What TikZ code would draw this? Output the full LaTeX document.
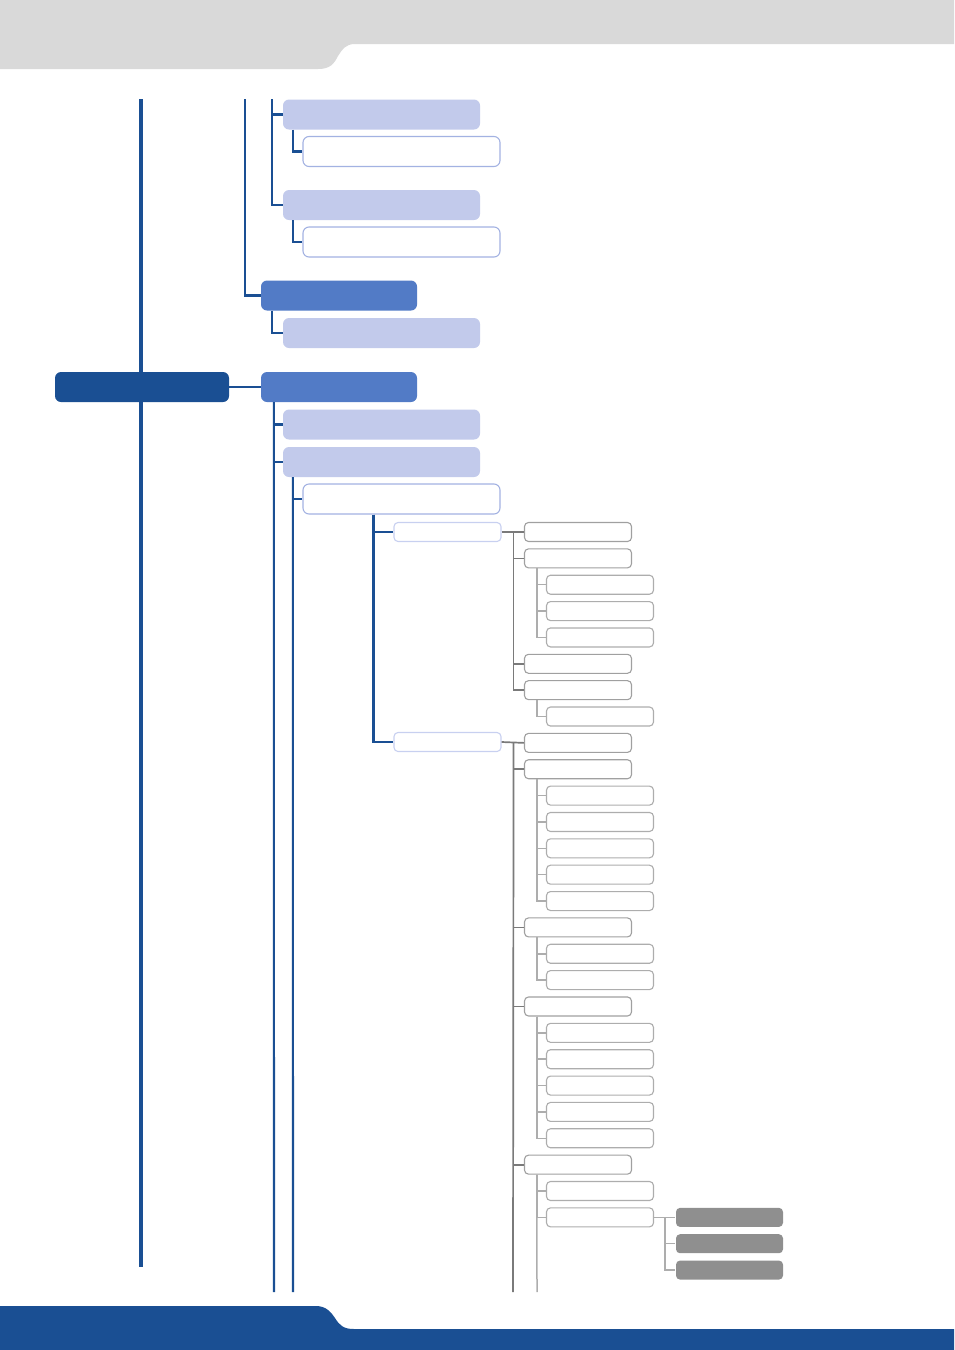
\documentclass[tikz,border=0pt]{standalone}
\usepackage{xcolor}
\usepackage{tikz}
\usetikzlibrary{positioning}
\definecolor{navy}{HTML}{1A4F93}
\definecolor{midblue}{HTML}{527BC6}
\definecolor{lav}{HTML}{C2CAEB}
\definecolor{lavline}{HTML}{A3B2E2}
\definecolor{lavpale}{HTML}{C8D0F0}
\definecolor{headgrey}{HTML}{D9D9D9}
\definecolor{greyrail}{HTML}{7A7A7A}
\definecolor{greylight}{HTML}{ADADAD}
\definecolor{greyedge}{HTML}{A0A0A0}
\definecolor{greyfill}{HTML}{8F8F8F}

\begin{document}
\begin{tikzpicture}[x=1pt, y=-1pt,
    box/.style={rectangle, rounded corners=6pt, minimum height=30pt, inner sep=0pt},
    rootbox/.style={box, fill=navy, minimum width=174pt},
    topicbox/.style={box, fill=midblue, minimum width=156pt},
    subbox/.style={box, fill=lav, minimum width=197pt},
    leafbox/.style={box, draw=lavline, fill=white, line width=1.1pt, minimum width=197pt},
    itembox/.style={rectangle, rounded corners=4pt, minimum width=107pt, minimum height=19pt, inner sep=0pt, draw=lavpale, line width=1.1pt, fill=white},
    greybox/.style={itembox, draw=greyedge},
    darkbox/.style={itembox, draw=none, fill=greyfill},
    spine/.style={navy, line width=3.2pt},
    link/.style={navy, line width=2.1pt},
    glink/.style={greyrail, line width=1.7pt},
    llink/.style={greylight, line width=1.5pt}
  ]
    \useasboundingbox (0,0) rectangle (954,1350);

    % page header and footer
    \fill[headgrey] (0,0) -- (954,0) -- (954,44) -- (355,44)
      .. controls (345,44) and (342,50) .. (338,56)
      .. controls (334,64) and (330,69) .. (318,69) -- (0,69) -- cycle;
    \fill[navy] (0,1350) -- (0,1306) -- (316,1306)
      .. controls (326,1306) and (331,1312) .. (335,1318)
      .. controls (340,1326) and (344,1329) .. (354,1329) -- (954,1329) -- (954,1350) -- cycle;

    % blue part of the tree
    \node[rootbox] (root) at (142,387) {};
    \node[subbox] (subA1) at (381.5,114.5) {};
    \node[leafbox] (leafA1) at (401.5,151.5) {};
    \node[subbox] (subA2) at (381.5,205) {};
    \node[leafbox] (leafA2) at (401.5,242) {};
    \node[topicbox] (secB) at (339,295.5) {};
    \node[subbox] (subB1) at (381.5,333) {};
    \node[topicbox] (secC) at (339,387) {};
    \node[subbox] (subC1) at (381.5,424.5) {};
    \node[subbox] (subC2) at (381.5,462) {};
    \node[leafbox] (leafC2) at (401.5,499) {};
    \node[itembox] (itemD1) at (447.5,532) {};
    \node[itembox] (itemD2) at (447.5,742) {};

    % grey part, one row every 26.36
    \foreach \r in {0,1,5,6,8,9,15,18,24}
      \node[greybox] (e\r) at (578,{532+26.36*\r}) {};
    \foreach \r in {2,3,4,7,10,11,12,13,14,16,17,19,20,21,22,23,25,26}
      \node[greybox, draw=greylight] (f\r) at (600,{532+26.36*\r}) {};
    \foreach \r in {26,27,28}
      \node[darkbox] (g\r) at (729.5,{532+26.36*\r}) {};

    \coordinate (trunkTop) at (141,99);
    \coordinate (trunkEnd) at (141,1267);
    \coordinate (railB) at (245,99);
    \coordinate (railA) at (272,99);
    \coordinate (railC) at (274,1292);
    \coordinate (railC2) at (293,1292);
    \coordinate (railGrey) at (513,1292);
    \coordinate (railLight) at (537,1292);

    \draw[spine] (trunkTop) -- (trunkEnd);
    \draw[link] (railB) |- (secB.west);
    \draw[link] (railA) |- (subA1.west);
    \draw[link] (railA) |- (subA2.west);
    \draw[link] ([xshift=10pt]subA1.south west) |- (leafA1.west);
    \draw[link] ([xshift=10pt]subA2.south west) |- (leafA2.west);
    \draw[link] ([xshift=11pt]secB.south west) |- (subB1.west);
    \draw[link] (root.east) -- (secC.west);
    \draw[link] ([xshift=13pt]secC.south west) -- (railC);
    \draw[link] ([xshift=13pt]secC.south west) |- (subC1.west);
    \draw[link] ([xshift=13pt]secC.south west) |- (subC2.west);
    \draw[link] ([xshift=10pt]subC2.south west) -- (railC2);
    \draw[link] ([xshift=10pt]subC2.south west) |- (leafC2.west);
    \draw[link] ([xshift=71pt]leafC2.south west) |- (itemD1.west);
    \draw[link] ([xshift=71pt]leafC2.south west) |- (itemD2.west);

    \draw[glink] (itemD1.east) -- (e0.west);
    \foreach \r in {1,5,6}
      \draw[glink] ([xshift=12pt]itemD1.east) |- (e\r.west);
    \draw[glink] (itemD2.east) -- (e8.west);
    \draw[glink] ([xshift=12pt]itemD2.east) -- (railGrey);
    \foreach \r in {9,15,18,24}
      \draw[glink] ([xshift=12pt]itemD2.east) |- (e\r.west);

    \foreach \p/\c in {1/2,1/3,1/4,6/7,9/10,9/11,9/12,9/13,9/14,15/16,15/17,18/19,18/20,18/21,18/22,18/23,24/25,24/26}
      \draw[llink] ([xshift=13pt]e\p.south west) |- (f\c.west);
    \draw[llink] ([xshift=13pt]e24.south west) -- (railLight);
    \draw[llink] (f26.east) -- (g26.west);
    \foreach \r in {27,28}
      \draw[llink] ([xshift=11pt]f26.east) |- (g\r.west);

  \end{tikzpicture}
\end{document}
